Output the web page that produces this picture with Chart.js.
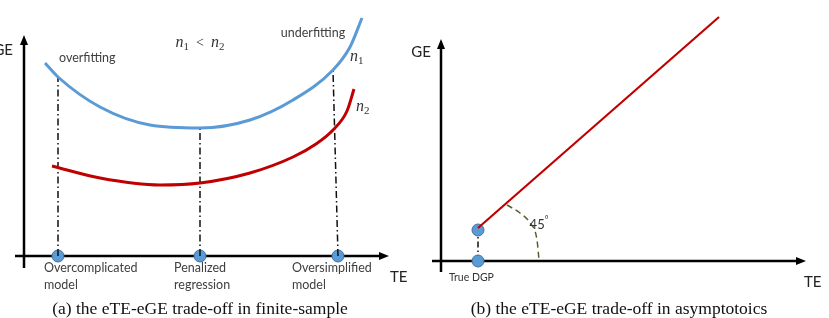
<!DOCTYPE html>
<html>
<head>
<meta charset="utf-8">
<script src="https://cdn.jsdelivr.net/npm/chart.js@4"></script>
<style>
  body { margin: 0; background: #fff; width: 829px; height: 318px; position: relative; overflow: hidden; }
  canvas { position: absolute; top: 0; }
  #chart-a { left: 0; }
  #chart-b { left: 400px; }
  .cap { position: absolute; top: 298px; font: 17.5px "Liberation Serif", serif; color: #111;
         white-space: nowrap; transform: translateX(-50%); line-height: 20px; }
</style>
</head>
<body>
<canvas id="chart-a" width="415" height="318"></canvas>
<canvas id="chart-b" width="429" height="318"></canvas>
<div class="cap" style="left:200px">(a) the eTE-eGE trade-off in finite-sample</div>
<div class="cap" style="left:619px">(b) the eTE-eGE trade-off in asymptotoics</div>
<script>
// panel (a): GE against TE for two sample sizes
const n1TE = [2.1, 3.4, 7.6, 12.6, 17.6, 22.6, 26.9, 30.9, 32.6, 33.8];
const n1GE = [19.3, 17.9, 14.9, 13.1, 12.8, 13.6, 15.6, 18.6, 20.9, 23.8];
const n2TE = [2.8, 7.6, 13.6, 17.6, 22.6, 26.9, 29.2, 30.9, 32.3, 33.0];
const n2GE = [9.0, 7.8, 7.1, 7.3, 8.3, 9.9, 11.2, 12.6, 14.5, 16.7];
const modelTE = [3.4, 17.6, 31.4];
const modelTopTE = [3.4, 17.6, 30.9];
const modelTopGE = [17.9, 12.8, 18.6];
const modelNames = [["Overcomplicated", "model"], ["Penalized", "regression"], ["Oversimplified", "model"]];

// panel (b): asymptotic line
const lineTE = [3.7, 27.8];
const lineGE = [3.3, 24.4];
const dgpTE = 3.7;
const dgpGE = [0, 3.1];
const arcTE = [6.6, 7.9, 8.9, 9.6, 9.8];
const arcGE = [5.6, 4.8, 3.8, 2.1, 0.1];

const BLUE = '#5B9BD5';
const RED = '#C00000';
const LBL = '"Lato", "Open Sans", sans-serif';

function pts(xs, ys) {
  return xs.map(function(x, i) { return {x: x, y: ys[i]}; });
}

function arrow(ctx, ch, x0, y0, x1, y1) {
  const sx = ch.scales.x, sy = ch.scales.y;
  const a = sx.getPixelForValue(x0), b = sy.getPixelForValue(y0);
  const c = sx.getPixelForValue(x1), d = sy.getPixelForValue(y1);
  const ang = Math.atan2(d - b, c - a);
  ctx.save();
  ctx.strokeStyle = '#000';
  ctx.fillStyle = '#000';
  ctx.lineWidth = 2.5;
  ctx.beginPath();
  ctx.moveTo(a, b);
  ctx.lineTo(c - 6 * Math.cos(ang), d - 6 * Math.sin(ang));
  ctx.stroke();
  ctx.beginPath();
  ctx.moveTo(c, d);
  ctx.lineTo(c - 10 * Math.cos(ang) + 4 * Math.sin(ang), d - 10 * Math.sin(ang) - 4 * Math.cos(ang));
  ctx.lineTo(c - 10 * Math.cos(ang) - 4 * Math.sin(ang), d - 10 * Math.sin(ang) + 4 * Math.cos(ang));
  ctx.closePath();
  ctx.fill();
  ctx.restore();
}

// runs: [text, font, dy]
function label(ctx, ch, x, y, runs, color, align) {
  const px = ch.scales.x.getPixelForValue(x), py = ch.scales.y.getPixelForValue(y);
  ctx.save();
  ctx.fillStyle = color;
  ctx.textBaseline = 'middle';
  ctx.textAlign = 'left';
  let w = 0;
  runs.forEach(function(r) { ctx.font = r[1]; w += ctx.measureText(r[0]).width; });
  let cx = px;
  if (align === 'center') cx = px - w / 2;
  if (align === 'right') cx = px - w;
  runs.forEach(function(r) {
    ctx.font = r[1];
    ctx.fillText(r[0], cx, py + (r[2] || 0));
    cx += ctx.measureText(r[0]).width;
  });
  ctx.restore();
}

const MI = 'italic 16px "Liberation Serif", serif';
const MS = '11px "Liberation Serif", serif';

const decorA = {
  id: 'decorA',
  beforeDatasetsDraw: function(ch) {
    const ctx = ch.ctx;
    arrow(ctx, ch, 0, -1.2, 0, 22.1);
    arrow(ctx, ch, -0.9, 0, 36.5, 0);
  },
  afterDatasetsDraw: function(ch) {
    const ctx = ch.ctx;
    const g = '#404040';
    label(ctx, ch, -1.1, 20.6, [['GE', '15px ' + LBL]], '#222', 'right');
    label(ctx, ch, 36.6, -2.1, [['TE', '15px ' + LBL]], '#222', 'left');
    label(ctx, ch, 3.5, 19.8, [['overfitting', '12.5px ' + LBL]], g, 'left');
    label(ctx, ch, 28.9, 22.3, [['underfitting', '12.5px ' + LBL]], g, 'center');
    label(ctx, ch, 17.6, 21.3, [['n', MI], ['1', MS, 4], ['  <  ', '14px "Liberation Serif", serif'], ['n', MI], ['2', MS, 4]], '#333', 'center');
    label(ctx, ch, 32.6, 19.9, [['n', MI], ['1', MS, 4]], '#333', 'left');
    label(ctx, ch, 33.2, 14.9, [['n', MI], ['2', MS, 4]], '#333', 'left');
    const left = [2.0, 15.0, 26.8];
    modelNames.forEach(function(nm, i) {
      label(ctx, ch, left[i], -1.2, [[nm[0], '12.5px ' + LBL]], g, 'left');
      label(ctx, ch, left[i], -2.9, [[nm[1], '12.5px ' + LBL]], g, 'left');
    });
  }
};

const decorB = {
  id: 'decorB',
  beforeDatasetsDraw: function(ch) {
    const ctx = ch.ctx;
    arrow(ctx, ch, 0, -1.1, 0, 22.2);
    arrow(ctx, ch, -0.9, 0, 36.5, 0);
  },
  afterDatasetsDraw: function(ch) {
    const ctx = ch.ctx;
    label(ctx, ch, -2.0, 20.9, [['GE', '15px ' + LBL]], '#222', 'center');
    label(ctx, ch, 36.3, -2.1, [['TE', '15px ' + LBL]], '#222', 'left');
    label(ctx, ch, 0.8, -1.7, [['True DGP', '10.5px ' + LBL]], '#333', 'left');
    label(ctx, ch, 9.8, 3.6, [['45', '13px ' + LBL], ['\u00b0', '9px ' + LBL, -5]], '#333', 'center');
  }
};

function baseOptions(xmin, xmax, ymin, ymax) {
  return {
    responsive: false,
    animation: false,
    layout: { padding: 0, autoPadding: false },
    plugins: { legend: { display: false }, tooltip: { enabled: false } },
    scales: {
      x: { type: 'linear', display: false, min: xmin, max: xmax },
      y: { type: 'linear', display: false, min: ymin, max: ymax }
    }
  };
}

const dropSets = modelTE.map(function(x, i) {
  return {
    data: [{x: x, y: 0}, {x: modelTopTE[i], y: modelTopGE[i]}],
    showLine: true, borderColor: '#111', borderWidth: 1.5,
    borderDash: [7, 3, 1.5, 3], pointRadius: 0
  };
});

new Chart(document.getElementById('chart-a'), {
  type: 'scatter',
  data: {
    datasets: [
      { data: pts(n1TE, n1GE), showLine: true, borderColor: BLUE, borderWidth: 3,
        cubicInterpolationMode: 'monotone', pointRadius: 0 },
      { data: pts(n2TE, n2GE), showLine: true, borderColor: RED, borderWidth: 3,
        cubicInterpolationMode: 'monotone', pointRadius: 0 }
    ].concat(dropSets).concat([
      { data: modelTE.map(function(x) { return {x: x, y: 0}; }), pointRadius: 6,
        backgroundColor: BLUE, borderColor: '#41719C', borderWidth: 1 }
    ])
  },
  options: baseOptions(-2.4, 39.1, -6.2, 25.6),
  plugins: [decorA]
});

new Chart(document.getElementById('chart-b'), {
  type: 'scatter',
  data: {
    datasets: [
      { data: pts(arcTE, arcGE), showLine: true, borderColor: '#4F6228', borderWidth: 1.5,
        borderDash: [6, 4], cubicInterpolationMode: 'monotone', pointRadius: 0 },
      { data: pts(lineTE, lineGE), showLine: true, borderColor: RED, borderWidth: 2.2, pointRadius: 0 },
      { data: dgpGE.map(function(y) { return {x: dgpTE, y: y}; }), showLine: true, borderColor: '#111',
        borderWidth: 1.5, borderDash: [6, 3, 1.5, 3], pointRadius: 6,
        backgroundColor: BLUE, pointBorderColor: '#41719C', pointBorderWidth: 1 }
    ]
  },
  options: baseOptions(-4.1, 38.8, -5.7, 26.1),
  plugins: [decorB]
});
</script>
</body>
</html>
